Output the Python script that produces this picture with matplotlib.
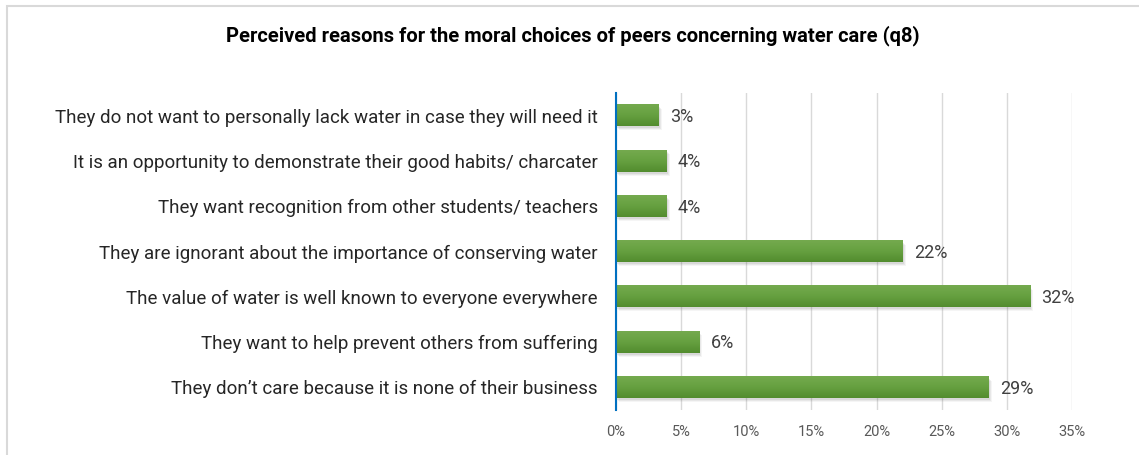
import numpy as np
import matplotlib.pyplot as plt
import matplotlib.transforms as mtransforms
from matplotlib.patches import Rectangle
from matplotlib.ticker import FuncFormatter

plt.rcParams['font.family'] = ['Roboto', 'DejaVu Sans']

# Survey answers, top to bottom, and share of respondents (%)
reasons = [
    "They do not want to personally lack water in case they will need it",
    "It is an opportunity to demonstrate their good habits/ charcater",
    "They want recognition from other students/ teachers",
    "They are ignorant about the importance of conserving water",
    "The value of water is well known to everyone everywhere",
    "They want to help prevent others from suffering",
    "They don\u2019t care because it is none of their business",
]
shares = [3.3, 3.9, 3.9, 22.0, 31.8, 6.4, 28.6]
xticks = [0, 5, 10, 15, 20, 25, 30, 35]

fig = plt.figure(figsize=(11.39, 4.55), dpi=100)
W, H = 1139, 455

# outer chart frame (open at right and bottom)
fig.patches.append(Rectangle((7 / W, -0.1), 1.2, 1 - 6 / H + 0.1,
                             transform=fig.transFigure, fill=False,
                             edgecolor='#d9d9d9', linewidth=1.5))

ax = fig.add_axes([616 / W, 1 - 410 / H, 456 / W, 317 / H])

n = len(reasons)
ypos = np.arange(n)[::-1]
h = 0.47

# soft drop shadow under each bar
for k, a in enumerate([0.10, 0.08, 0.06]):
    off = mtransforms.offset_copy(ax.transData, fig, x=1 + k, y=-(2 + k), units='dots')
    ax.barh(ypos, shares, height=h, color='#555555', alpha=a, transform=off,
            zorder=2, linewidth=0)

bars = ax.barh(ypos, shares, height=h, color='#62983c', zorder=3, linewidth=0)

# vertical gradient fill on top of each bar
grad = np.linspace(0, 1, 64).reshape(-1, 1)
cmap = plt.matplotlib.colors.LinearSegmentedColormap.from_list(
    'grn', ['#74aa4e', '#66a040', '#528c2e'])
for b in bars:
    x0, y0 = b.get_x(), b.get_y()
    ax.imshow(grad, extent=[x0, x0 + b.get_width(), y0, y0 + b.get_height()],
              origin='upper', aspect='auto', cmap=cmap, zorder=4,
              interpolation='bilinear')

for y, v in zip(ypos, shares):
    ax.annotate(f"{v:.0f}%", (v, y), xytext=(8, -1), textcoords='offset points',
                va='center', ha='left', fontsize=13, color='#404040', zorder=5)

ax.set_xlim(0, 35)
ax.set_ylim(-0.5, n - 0.5)
ax.set_xticks(xticks)
ax.xaxis.set_major_formatter(FuncFormatter(lambda v, p: f"{v:.0f}%"))
ax.set_yticks(ypos)
ax.set_yticklabels(reasons, fontsize=13.5, color='#262626')
ax.tick_params(axis='y', length=0, pad=13)
ax.tick_params(axis='x', length=0, pad=11, labelsize=10.5, labelcolor='#595959')
ax.grid(axis='x', color='#d9d9d9', linewidth=1, zorder=0)
ax.set_axisbelow(True)
for s in ['top', 'right', 'bottom']:
    ax.spines[s].set_visible(False)
ax.spines['left'].set_color('#0070c0')
ax.spines['left'].set_linewidth(1.5)
ax.spines['left'].set_zorder(6)

fig.text(573 / W, 1 - 36 / H,
         "Perceived reasons for the moral choices of peers concerning water care (q8)",
         ha='center', va='center', fontsize=14.5, fontweight='bold', color='#000000')

fig.savefig('out.png', dpi=100)
